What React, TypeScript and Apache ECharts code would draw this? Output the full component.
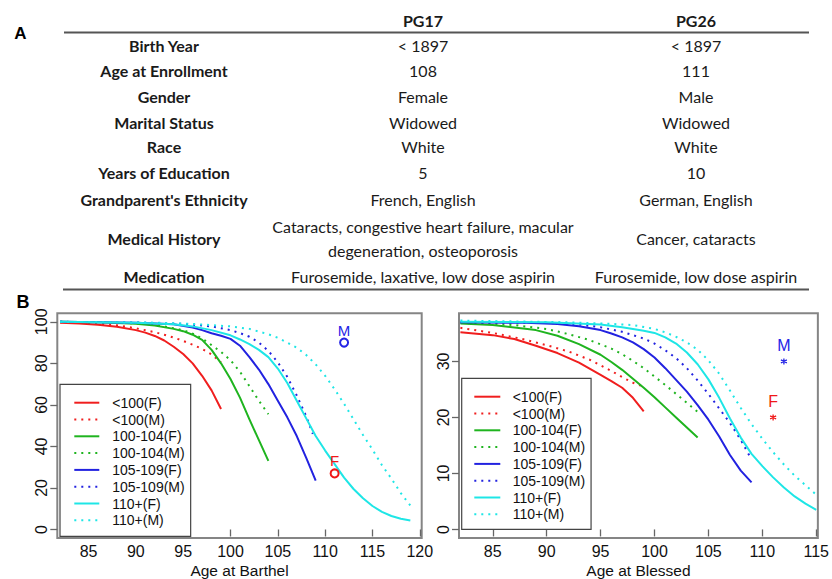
import React, { useEffect, useRef } from "react";
import * as echarts from "echarts";

// ---------- Table (panel A) ----------
const tableHeaders = ["PG17", "PG26"];
const rowLabels = [
  "Birth Year",
  "Age at Enrollment",
  "Gender",
  "Marital Status",
  "Race",
  "Years of Education",
  "Grandparent's Ethnicity",
  "Medical History",
  "Medication",
];
const pg17Values = [
  "< 1897",
  "108",
  "Female",
  "Widowed",
  "White",
  "5",
  "French, English",
  "Cataracts, congestive heart failure, macular\ndegeneration, osteoporosis",
  "Furosemide, laxative, low dose aspirin",
];
const pg26Values = [
  "< 1897",
  "111",
  "Male",
  "Widowed",
  "White",
  "10",
  "German, English",
  "Cancer, cataracts",
  "Furosemide, low dose aspirin",
];

// ---------- Panel B data ----------
const seriesNames = [
  "<100(F)",
  "<100(M)",
  "100-104(F)",
  "100-104(M)",
  "105-109(F)",
  "105-109(M)",
  "110+(F)",
  "110+(M)",
];
const seriesColors = ["#f01e1e", "#f01e1e", "#1fb41f", "#1fb41f", "#2222e0", "#2222e0", "#1ee6e6", "#1ee6e6"];
const seriesDotted = [false, true, false, true, false, true, false, true];

const xTicksBarthel = [85, 90, 95, 100, 105, 110, 115, 120];
const yTicksBarthel = [0, 20, 40, 60, 80, 100];
const xTicksBlessed = [85, 90, 95, 100, 105, 110, 115];
const yTicksBlessed = [0, 10, 20, 30];

const barthelLt100F = [[82,99.6],[84,99.2],[86,98.6],[88,97.6],[90,96],[91,94.8],[92,93.2],[93,91],[94,88],[95,84.5],[96,80],[97,74],[98,67],[99,58]];
const barthelLt100M = [[82,99.8],[85,99.3],[88,98.3],[90,96.9],[92,95],[93,93.8],[94,92.4],[95,90.8],[96,89],[97,87],[98,84.3],[99,80.5]];
const barthel100F = [[82,100],[86,99.8],[90,99.1],[92,98.2],[94,96.6],[95,95.5],[96,93.8],[97,91.3],[98,86.5],[99,80],[100,72.5],[101,63.5],[102,53],[103,43],[104,33]];
const barthel100M = [[82,100],[88,99.6],[91,99],[93,97.8],[95,96],[96,94.3],[97,92],[98,88.8],[99,85.5],[100,81.5],[101,76],[102,69],[103,62],[104,55.5]];
const barthel105F = [[82,100],[90,99.6],[94,98.8],[96,97.2],[97,96],[98,94.5],[99,93.3],[100,91.8],[101,88.5],[102,83],[103,77],[104,70],[105,62],[106,54],[107,45],[108,34.5],[109,23.5]];
const barthel105M = [[82,100],[90,99.7],[95,99],[98,97.8],[100,96],[101,94.6],[102,92.8],[103,90],[104,86],[105,80.5],[106,73.5],[107,64.5],[108,54.5],[108.7,46]];
const barthel110F = [[82,100],[90,99.5],[94,98.8],[96,97.8],[98,96],[100,93.5],[101,91.5],[102,89.3],[103,86.5],[104,83],[105,77.5],[106,70.5],[107,62],[108,53.5],[109,45],[110,38],[111,31.5],[112,25],[113,19.5],[114,15],[115,11.3],[116,8.5],[117,6.5],[118,5.2],[119,4.3]];
const barthel110M = [[82,100],[92,99.6],[96,99],[100,97.8],[102,96.6],[104,94],[105,92.3],[106,90],[107,87.5],[108,84],[109,79.5],[110,74],[111,67.5],[112,60.5],[113,53],[114,45.5],[115,38.5],[116,31],[117,24.5],[118,17.5],[119,11.5]];

const blessedLt100F = [[82,35.2],[85,34.7],[87,34],[89,32.8],[91,31.5],[93,29.8],[95,27.6],[96,26.5],[97,25.3],[98,23.5],[99,21.1]];
const blessedLt100M = [[82,36],[85,35.1],[88,33.9],[90,32.9],[92,31.8],[94,30.3],[96,28.3],[97,27.2],[98,26.2],[99,25.5]];
const blessed100F = [[82,36.8],[85,36.5],[89,35.6],[91,34.6],[93,33.1],[95,31.2],[96,29.9],[97,28.5],[98,26.9],[99,25.3],[100,23.6],[101,21.8],[102,20],[103,18.2],[104,16.4]];
const blessed100M = [[82,36.9],[87,36.5],[90,35.8],[92,34.9],[94,33.8],[96,32.3],[97,31.3],[98,30.1],[99,28.8],[100,27.3],[101,25.8],[102,24.2],[103,22.6],[104,21]];
const blessed105F = [[82,37],[88,36.9],[91,36.7],[93,36.3],[95,35.6],[96,35],[97,34.3],[98,33.4],[99,32.2],[100,30.7],[101,28.8],[102,26.7],[103,24.6],[104,22.2],[105,19.6],[106,16.6],[107,13.3],[108,10.5],[109,8.4]];
const blessed105M = [[82,37],[90,36.9],[93,36.6],[95,36.1],[97,35.3],[99,34.1],[100,33.2],[101,32],[102,30.6],[103,28.8],[104,26.6],[105,24.2],[106,21.6],[107,19],[108,16],[109,12.5]];
const blessed110F = [[82,37.1],[90,37],[95,36.6],[97,36.1],[99,35.5],[100,35.1],[101,34.3],[102,33.2],[103,31.6],[104,29.5],[105,26.8],[106,23.5],[107,19.8],[108,16.4],[109,13.5],[110,11.3],[111,9.3],[112,7.5],[113,5.9],[114,4.6],[115,3.5]];
const blessed110M = [[82,37.3],[92,37],[96,36.7],[98,36.5],[100,35.8],[101,35.2],[102,34.4],[103,33.4],[104,32.1],[105,30.2],[106,27.8],[107,24.8],[108,21.7],[109,18.8],[110,16.2],[111,13.8],[112,11.6],[113,9.6],[114,7.9],[115,6.2]];

const barthelSeriesData = [barthelLt100F, barthelLt100M, barthel100F, barthel100M, barthel105F, barthel105M, barthel110F, barthel110M];
const blessedSeriesData = [blessedLt100F, blessedLt100M, blessed100F, blessed100M, blessed105F, blessed105M, blessed110F, blessed110M];

// subject points: [label, age, score]
const barthelSubjects = [["M", 112, 90], ["F", 111, 27]];
const blessedSubjects = [["M", 112, 30], ["F", 111, 20]];
const subjectColors = { M: "#2424e6", F: "#f01818" };

const ARIAL = "'Liberation Sans', Arial, sans-serif";
const TABLE_FONT = "Lato, 'Open Sans', sans-serif";

function buildTableGraphics() {
  const els: any[] = [];
  const txt = (text: string, x: number, y: number, opts: any = {}) =>
    els.push({
      type: "text",
      x,
      y,
      silent: true,
      style: {
        text,
        fill: opts.fill || "#1a1a1a",
        fontFamily: opts.fontFamily || TABLE_FONT,
        fontSize: opts.fontSize || 16,
        fontWeight: opts.fontWeight || "normal",
        lineHeight: opts.lineHeight || 24,
        align: "center",
        verticalAlign: "middle",
      },
    });
  txt("A", 20.5, 33, { fontFamily: ARIAL, fontWeight: "bold", fontSize: 17, fill: "#000" });
  txt("B", 23, 301.5, { fontFamily: ARIAL, fontWeight: "bold", fontSize: 18, fill: "#000" });
  const colX = [164, 423, 696];
  txt(tableHeaders[0], colX[1], 20, { fontWeight: "bold" });
  txt(tableHeaders[1], colX[2], 20, { fontWeight: "bold" });
  const rowY = [45, 70.7, 96.7, 122.3, 146.7, 172.7, 199.3, 238.3, 276.7];
  rowLabels.forEach((lab, i) => {
    txt(lab, colX[0], rowY[i], { fontWeight: "bold" });
    txt(pg17Values[i], colX[1], rowY[i]);
    txt(pg26Values[i], colX[2], rowY[i]);
  });
  els.push({ type: "line", silent: true, shape: { x1: 64, y1: 32.5, x2: 809, y2: 32.5 }, style: { stroke: "#555", lineWidth: 1.8 } });
  els.push({ type: "line", silent: true, shape: { x1: 63, y1: 289.5, x2: 809, y2: 289.5 }, style: { stroke: "#555", lineWidth: 2 } });
  return els;
}

function lineSeries(name: string, data: number[][], color: string, dotted: boolean, idx: number) {
  return {
    type: "line",
    name,
    data,
    xAxisIndex: idx,
    yAxisIndex: idx,
    symbol: "none",
    smooth: false,
    clip: true,
    lineStyle: { color, width: 2, type: dotted ? [2, 5] : "solid", cap: "butt", join: "round" },
    itemStyle: { color },
    z: 3,
  };
}

function subjectSeries(points: any[], idx: number, star: boolean) {
  return {
    type: "scatter",
    name: star ? "subjects-blessed" : "subjects-barthel",
    xAxisIndex: idx,
    yAxisIndex: idx,
    symbol: star ? "path://M5 0V10M0.67 2.5L9.33 7.5M9.33 2.5L0.67 7.5" : "emptyCircle",
    symbolSize: star ? 6 : 8,
    z: 5,
    data: points.map((p) => {
      const c = (subjectColors as any)[p[0]];
      return {
        name: p[0],
        value: [p[1], p[2]],
        itemStyle: { color: c, borderColor: c, borderWidth: 1.3, opacity: 1 },
        label: {
          show: true,
          formatter: "{b}",
          position: "top",
          distance: star ? 4 : 0,
          color: c,
          textBorderWidth: 0,
          fontFamily: ARIAL,
          fontSize: star ? 16 : 15,
        },
      };
    }),
  };
}

function axisPair(xmin: number, xmax: number, ymin: number, ymax: number, xt: number[], yt: number[], title: string, idx: number) {
  const tickStyle = { show: true, length: 7, lineStyle: { color: "#666", width: 1.3 } };
  return {
    x: {
      type: "value",
      gridIndex: idx,
      min: xmin,
      max: xmax,
      name: title,
      nameLocation: "middle",
      nameGap: 24,
      nameTextStyle: { fontFamily: ARIAL, fontSize: 15.5, color: "#111" },
      axisLine: { show: false },
      splitLine: { show: false },
      axisTick: { ...tickStyle, customValues: xt },
      axisLabel: { customValues: xt, fontFamily: ARIAL, fontSize: 16, color: "#111", margin: 5 },
    },
    y: {
      type: "value",
      gridIndex: idx,
      min: ymin,
      max: ymax,
      axisLine: { show: false },
      splitLine: { show: false },
      axisTick: { ...tickStyle, customValues: yt },
      axisLabel: { customValues: yt, rotate: 90, fontFamily: ARIAL, fontSize: 16, color: "#111", margin: 8 },
    },
  };
}

function legendCfg(left: number, top: number, padding: number[], itemWidth: number, textPadLeft: number) {
  return {
    data: seriesNames,
    orient: "vertical",
    left,
    top,
    padding,
    itemWidth,
    itemHeight: 10,
    itemGap: 0,
    selectedMode: false,
    backgroundColor: "#fff",
    borderColor: "#444",
    borderWidth: 1.2,
    borderRadius: 0,
    itemStyle: { opacity: 0 },
    textStyle: { fontFamily: ARIAL, fontSize: 14, color: "#111", lineHeight: 16.8, padding: [0, 0, 0, textPadLeft] },
  };
}

export default function App() {
  const ref = useRef<HTMLDivElement>(null);
  useEffect(() => {
    if (!ref.current) return;
    const chart = echarts.init(ref.current, null, { renderer: "svg" });
    const a0 = axisPair(81.7, 120.2, -4.1, 104.1, xTicksBarthel, yTicksBarthel, "Age at Barthel", 0);
    const a1 = axisPair(81.87, 115.15, -1.53, 38.6, xTicksBlessed, yTicksBlessed, "Age at Blessed", 1);
    const series: any[] = [];
    seriesNames.forEach((n, i) => series.push(lineSeries(n, barthelSeriesData[i], seriesColors[i], seriesDotted[i], 0)));
    seriesNames.forEach((n, i) => series.push(lineSeries(n, blessedSeriesData[i], seriesColors[i], seriesDotted[i], 1)));
    series.push(subjectSeries(barthelSubjects, 0, false));
    series.push(subjectSeries(blessedSubjects, 1, true));
    chart.setOption({
      animation: false,
      backgroundColor: "#fff",
      grid: [
        { left: 57.3, top: 313.3, width: 364.4, height: 226, show: true, borderColor: "#858585", borderWidth: 2, backgroundColor: "transparent" },
        { left: 459, top: 313.3, width: 364.3, height: 226, show: true, borderColor: "#858585", borderWidth: 2, backgroundColor: "transparent" },
      ],
      xAxis: [a0.x, a1.x],
      yAxis: [a0.y, a1.y],
      legend: [
        legendCfg(60, 384.3, [10, 6, 7.6, 13.3], 25, 8),
        legendCfg(461.7, 378.3, [10, 6, 6.6, 11.6], 26, 7.4),
      ],
      graphic: buildTableGraphics(),
      series,
    });
    return () => chart.dispose();
  }, []);
  return <div ref={ref} style={{ position: "absolute", left: 0, top: 0, width: 832, height: 579 }} />;
}
